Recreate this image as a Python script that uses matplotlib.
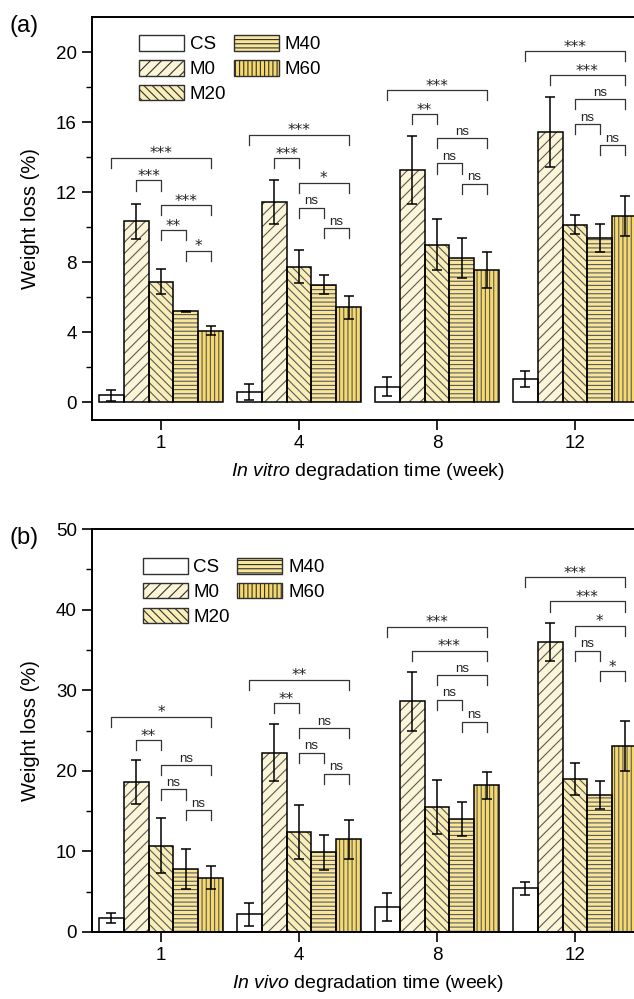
import numpy as np
import matplotlib
matplotlib.use("Agg")
import matplotlib.pyplot as plt

plt.rcParams['font.family'] = ['Liberation Sans', 'DejaVu Sans']
plt.rcParams['mathtext.fontset'] = 'custom'
plt.rcParams['mathtext.rm'] = 'Liberation Sans'
plt.rcParams['mathtext.it'] = 'Liberation Sans:italic'
plt.rcParams['hatch.linewidth'] = 0.8

# data
weeks = ['1', '4', '8', '12']
groups = ['CS', 'M0', 'M20', 'M40', 'M60']
colors = ['#ffffff', '#fcf5d8', '#f9edb8', '#f8e69c', '#f5d96c']
hatches = ['', '///', '\\\\\\\\', '----', '||||']

# in vitro (a)
vitro_mean = {
    'CS':  [0.40, 0.60, 0.91, 1.33],
    'M0':  [10.35, 11.45, 13.26, 15.45],
    'M20': [6.90, 7.75, 9.00, 10.15],
    'M40': [5.20, 6.72, 8.25, 9.39],
    'M60': [4.10, 5.43, 7.56, 10.63],
}
vitro_err = {
    'CS':  [0.30, 0.45, 0.55, 0.45],
    'M0':  [1.00, 1.25, 1.95, 2.00],
    'M20': [0.70, 0.95, 1.45, 0.55],
    'M40': [0.03, 0.55, 1.15, 0.80],
    'M60': [0.25, 0.65, 1.05, 1.15],
}
# brackets: (week index, from group, to group, height, label)
vitro_sig = [
    (0, 0, 4, 13.96, '***'), (0, 1, 2, 12.67, '***'), (0, 2, 4, 11.27, '***'),
    (0, 2, 3, 9.83, '**'), (0, 3, 4, 8.65, '*'),
    (1, 0, 4, 15.27, '***'), (1, 1, 2, 13.94, '***'), (1, 2, 4, 12.55, '*'),
    (1, 2, 3, 11.12, 'ns'), (1, 3, 4, 9.94, 'ns'),
    (2, 0, 4, 17.83, '***'), (2, 1, 2, 16.46, '**'), (2, 2, 4, 15.09, 'ns'),
    (2, 2, 3, 13.64, 'ns'), (2, 3, 4, 12.47, 'ns'),
    (3, 0, 4, 20.06, '***'), (3, 1, 4, 18.69, '***'), (3, 2, 4, 17.31, 'ns'),
    (3, 2, 3, 15.87, 'ns'), (3, 3, 4, 14.69, 'ns'),
]

# in vivo (b)
vivo_mean = {
    'CS':  [1.70, 2.20, 3.08, 5.40],
    'M0':  [18.64, 22.25, 28.60, 35.95],
    'M20': [10.70, 12.40, 15.57, 19.00],
    'M40': [7.80, 9.88, 13.99, 16.97],
    'M60': [6.76, 11.50, 18.18, 23.07],
}
vivo_err = {
    'CS':  [0.60, 1.40, 1.70, 0.75],
    'M0':  [2.70, 3.50, 3.70, 2.35],
    'M20': [3.40, 3.40, 3.35, 2.00],
    'M40': [2.50, 2.20, 2.10, 1.75],
    'M60': [1.45, 2.45, 1.65, 3.10],
}
vivo_sig = [
    (0, 0, 4, 26.69, '*'), (0, 1, 2, 23.82, '**'), (0, 2, 4, 20.67, 'ns'),
    (0, 2, 3, 17.68, 'ns'), (0, 3, 4, 15.10, 'ns'),
    (1, 0, 4, 31.30, '**'), (1, 1, 2, 28.39, '**'), (1, 2, 4, 25.28, 'ns'),
    (1, 2, 3, 22.25, 'ns'), (1, 3, 4, 19.64, 'ns'),
    (2, 0, 4, 37.86, '***'), (2, 1, 4, 34.90, '***'), (2, 2, 4, 31.88, 'ns'),
    (2, 2, 3, 28.80, 'ns'), (2, 3, 4, 26.11, 'ns'),
    (3, 0, 4, 44.00, '***'), (3, 1, 4, 41.01, '***'), (3, 2, 4, 38.02, '*'),
    (3, 2, 3, 34.87, 'ns'), (3, 3, 4, 32.34, '*'),
]

W = 0.18
x = np.arange(len(weeks))


def draw_panel(ax, mean, err, sig, ylim, major, minor, xlab, tag, leg_anchor):
    for i, g in enumerate(groups):
        pos = x + (i - 2) * W
        # fill + gray hatch, then black outline on top
        ax.bar(pos, mean[g], W, color=colors[i], hatch=hatches[i],
               edgecolor='#5a5a5a', linewidth=0, zorder=2)
        ax.bar(pos, mean[g], W, color='none', edgecolor='black',
               linewidth=1.1, zorder=3)
        ax.errorbar(pos, mean[g], yerr=err[g], fmt='none', ecolor='black',
                    elinewidth=1.1, capsize=3.3, capthick=1.1, zorder=4)
    # legend proxies
    handles = []
    for i, g in enumerate(groups):
        handles.append(matplotlib.patches.Patch(facecolor=colors[i], hatch=hatches[i],
                                                edgecolor='#303030', linewidth=1.0, label=g))
    ax.legend(handles=handles, ncol=2, frameon=False, loc='upper left',
              bbox_to_anchor=leg_anchor, borderaxespad=0, borderpad=0,
              handlelength=2.4, handleheight=0.9, handletextpad=0.3,
              labelspacing=0.35, columnspacing=0.4, fontsize=13.5)

    tl = (ylim[1] - ylim[0]) * 0.025
    for k, a, b, h, lab in sig:
        x1 = x[k] + (a - 2) * W
        x2 = x[k] + (b - 2) * W
        ax.plot([x1, x1, x2, x2], [h - tl, h, h, h - tl], color='#333333',
                lw=0.9, zorder=5)
        if lab == 'ns':
            ax.text((x1 + x2) / 2, h + tl * 0.05, lab, ha='center', va='bottom',
                    fontsize=9.5, color='#222222')
        else:
            ax.text((x1 + x2) / 2, h - tl * 0.35, lab, ha='center', va='bottom',
                    fontsize=11, color='#222222', family='DejaVu Sans')

    ax.set_xlim(-0.5, 3.5)
    ax.set_ylim(*ylim)
    ax.set_xticks(x)
    ax.set_xticklabels(weeks)
    ax.set_yticks(major)
    ax.set_yticks(minor, minor=True)
    ax.tick_params(axis='both', which='major', direction='out', length=7,
                   width=1.2, labelsize=13.5, pad=4)
    ax.tick_params(axis='y', which='minor', direction='out', length=4, width=1.0)
    for s in ax.spines.values():
        s.set_linewidth(1.4)
    ax.set_ylabel('Weight loss (%)', fontsize=14.5, labelpad=11)
    ax.set_xlabel(xlab, fontsize=14, labelpad=6)
    ax.text(-0.15, 1.005, tag, transform=ax.transAxes, fontsize=17,
            ha='left', va='top')


fig = plt.figure(figsize=(6.34, 9.99), dpi=100)
ax1 = fig.add_axes([92 / 634, 1 - 420 / 999, 552 / 634, 403 / 999])
ax2 = fig.add_axes([92 / 634, 1 - 932 / 999, 552 / 634, 403 / 999])

draw_panel(ax1, vitro_mean, vitro_err, vitro_sig, (-1, 22),
           [0, 4, 8, 12, 16, 20], [2, 6, 10, 14, 18],
           r'$\mathit{In\ vitro}$ degradation time (week)', '(a)', (0.085, 0.955))
draw_panel(ax2, vivo_mean, vivo_err, vivo_sig, (0, 50),
           [0, 10, 20, 30, 40, 50], [5, 15, 25, 35, 45],
           r'$\mathit{In\ vivo}$ degradation time (week)', '(b)', (0.092, 0.928))

fig.savefig('out.png', dpi=100)
